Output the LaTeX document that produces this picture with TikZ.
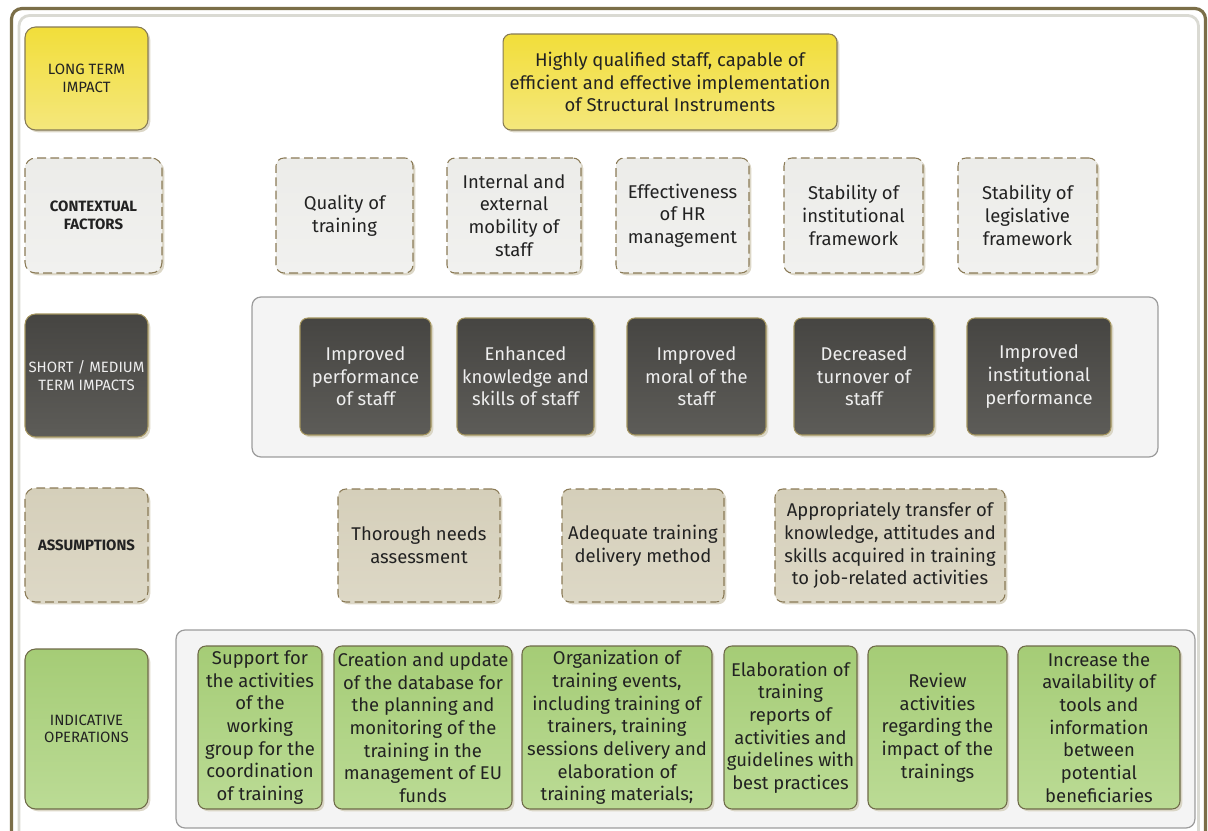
\documentclass[tikz,border=0pt]{standalone}
\usepackage{fontspec}
\setmainfont{Fira Sans}
\usepackage{xcolor}
\usetikzlibrary{shadows}
\definecolor{frameol}{HTML}{7B6E48}
\definecolor{framein}{HTML}{DADAD3}
\definecolor{txtc}{HTML}{222222}
\definecolor{shadc}{HTML}{D8D3C1}
\definecolor{yelA}{HTML}{F2DE3A}
\definecolor{yelB}{HTML}{F4E77C}
\definecolor{yelbd}{HTML}{867A55}
\definecolor{ctxA}{HTML}{ECECE9}
\definecolor{ctxB}{HTML}{F1F1EF}
\definecolor{dashbd}{HTML}{8A7A56}
\definecolor{dkA}{HTML}{464542}
\definecolor{dkB}{HTML}{5D5C58}
\definecolor{dkbd}{HTML}{A4955F}
\definecolor{dktx}{HTML}{EEEEEE}
\definecolor{asmA}{HTML}{D5CFBA}
\definecolor{asmB}{HTML}{DDD8C6}
\definecolor{grnA}{HTML}{A5CC76}
\definecolor{grnB}{HTML}{BBDB95}
\definecolor{grnbd}{HTML}{6E6A48}
\definecolor{contbd}{HTML}{9C9C9C}
\definecolor{contfill}{HTML}{F4F4F4}

\begin{document}
\begin{tikzpicture}[x=0.02cm,y=-0.02cm,
  bx/.style={rounded corners=4.5pt,align=center,line width=0.6pt,inner sep=1pt,
    font=\fontsize{10.5}{12.9}\selectfont,text=txtc,
    drop shadow={shadow xshift=1.3pt,shadow yshift=-1.3pt,fill=shadc,opacity=0.9}},
  yel/.style={bx,draw=yelbd,top color=yelA,bottom color=yelB},
  ctx/.style={bx,draw=dashbd,dash pattern=on 5pt off 2.5pt,top color=ctxA,bottom color=ctxB},
  dk/.style={bx,draw=dkbd,top color=dkA,bottom color=dkB,text=dktx},
  asm/.style={bx,draw=dashbd,dash pattern=on 5pt off 2.5pt,top color=asmA,bottom color=asmB},
  grn/.style={bx,draw=grnbd,top color=grnA,bottom color=grnB},
  cont/.style={draw=contbd,fill=contfill,rounded corners=5pt,line width=0.7pt},
  lab/.style={font=\fontsize{8.5}{10}\selectfont,rounded corners=6pt,minimum width=2.46cm},
  labb/.style={lab,font=\fontsize{8.5}{10}\selectfont\bfseries}]
 \useasboundingbox (0,0) rectangle (1208,831);
 % outer frame
 \begin{scope}
  \clip (0,0) rectangle (1208,831);
  \draw[frameol,line width=1.8pt,rounded corners=6pt] (11.5,850) -- (11.5,8.5) -- (1205.5,8.5) -- (1205.5,850);
  \draw[framein,line width=1.6pt,rounded corners=6pt] (19,850) -- (19,15.5) -- (1198.5,15.5) -- (1198.5,850);
 \end{scope}
 % row labels
 \node[yel,lab,minimum height=2.06cm] (lt) at (86.5,78.5) {LONG TERM\\IMPACT};
 \node[ctx,labb,minimum width=2.74cm,minimum height=2.3cm] (cf) at (93.5,215.5) {CONTEXTUAL\\FACTORS};
 \node[dk,lab,minimum height=2.46cm] (sm) at (86.5,375.5) {SHORT / MEDIUM\\TERM IMPACTS};
 \node[asm,labb,minimum height=2.28cm] (as) at (86.5,545) {ASSUMPTIONS};
 \node[grn,lab,minimum height=3.2cm] (io) at (86.5,729) {INDICATIVE\\OPERATIONS};
 % long term impact
 \node[yel,minimum width=6.68cm,minimum height=1.92cm] (goal) at (670,82)
   {Highly qualified staff, capable of\\efficient and effective implementation\\of Structural Instruments};
 % contextual factors
 \foreach \i/\a/\b/\txt in {
   1/276/413/{Quality of\\training},
   2/447/581/{Internal and\\external\\mobility of\\staff},
   3/616/749/{Effectiveness\\of HR\\management},
   4/784/923/{Stability of\\institutional\\framework},
   5/958/1097/{Stability of\\legislative\\framework}} {
   \node[ctx,minimum width={(\b-\a)*0.02cm},minimum height=2.3cm] (ctx\i) at ({(\a+\b)/2},215.5) {\txt};
 }
 % short / medium term impacts
 \node[cont,minimum width=18.12cm,minimum height=3.2cm] (shortbox) at (705,377) {};
 \foreach \i/\a/\b/\txt in {
   1/300/431/{Improved\\performance\\of staff},
   2/457/594/{Enhanced\\knowledge and\\skills of staff},
   3/627/766/{Improved\\moral of the\\staff},
   4/794/934/{Decreased\\turnover of\\staff},
   5/967/1111/{Improved\\institutional\\performance}} {
   \node[dk,minimum width={(\b-\a)*0.02cm},minimum height=2.34cm] (imp\i) at ({(\a+\b)/2},376.5) {\txt};
 }
 % assumptions
 \foreach \i/\a/\b/\txt in {
   1/338/500/{Thorough needs\\assessment},
   2/562/724/{Adequate training\\delivery method},
   3/775/1005/{Appropriately transfer of\\knowledge, attitudes and\\skills acquired in training\\to job-related activities}} {
   \node[asm,minimum width={(\b-\a)*0.02cm},minimum height=2.26cm] (asm\i) at ({(\a+\b)/2},545.5) {\txt};
 }
 % indicative operations
 \node[cont,minimum width=20.38cm,minimum height=3.96cm] (opsbox) at (685.5,729) {};
 \foreach \i/\a/\b/\txt in {
   1/198/322/{Support for\\the activities\\of the\\working\\group for the\\coordination\\of training},
   2/334/512/{Creation and update\\of the database for\\the planning and\\monitoring of the\\training in the\\management of EU\\funds},
   3/522/712/{Organization of\\training events,\\including training of\\trainers, training\\sessions delivery and\\elaboration of\\training materials;},
   4/724/857/{Elaboration of\\training\\reports of\\activities and\\guidelines with\\best practices},
   5/868/1007/{Review\\activities\\regarding the\\impact of the\\trainings},
   6/1018/1180/{Increase the\\availability of\\tools and\\information\\between\\potential\\beneficiaries}} {
   \node[grn,minimum width={(\b-\a)*0.02cm},minimum height=3.26cm] (op\i) at ({(\a+\b)/2},727.5) {\txt};
 }
\end{tikzpicture}
\end{document}
